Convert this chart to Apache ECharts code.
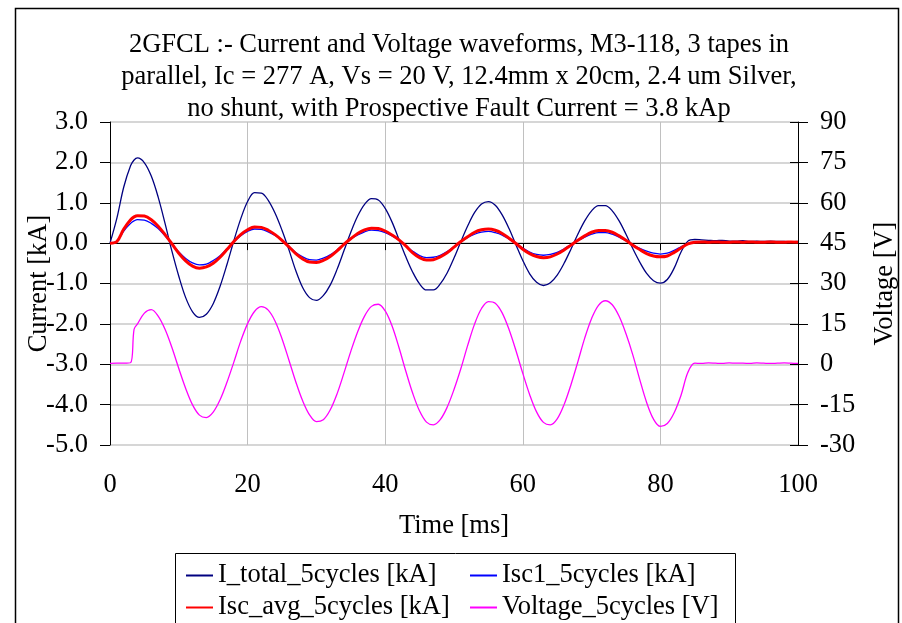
<!DOCTYPE html>
<html>
<head>
<meta charset="utf-8">
<script src="https://cdn.jsdelivr.net/npm/echarts@6/dist/echarts.min.js"></script>
<style>html,body{margin:0;padding:0;background:#fff}#c{width:902px;height:623px}</style>
</head>
<body>
<div id="c"></div>
<script>
const titleLines = [
  '2GFCL :- Current and Voltage waveforms, M3-118, 3 tapes in',
  'parallel, Ic = 277 A, Vs = 20 V, 12.4mm x 20cm, 2.4 um Silver,',
  'no shunt, with Prospective Fault Current = 3.8 kAp'
];
const seriesNames = ['I_total_5cycles [kA]', 'Isc1_5cycles [kA]', 'Isc_avg_5cycles [kA]', 'Voltage_5cycles [V]'];

const timeMs = [0,1,2,3,3.5,4,5,6,7,8,9,10,11,12,13,14,15,16,17,18,19,20,21,22,23,24,25,26,27,28,29,30,31,32,33,34,35,36,37,38,39,40,41,42,43,44,45,46,47,48,49,50,51,52,53,54,55,56,57,58,59,60,61,62,63,64,65,66,67,68,69,70,71,72,73,74,75,76,77,78,79,80,81,82,83,84,85,86,87,88,89,90,91,92,93,94,95,96,97,98,99,100];

const iTotal = [0,0.62,1.39,1.92,2.06,2.11,1.99,1.66,1.14,0.49,-0.20,-0.82,-1.35,-1.70,-1.84,-1.76,-1.50,-1.07,-0.53,0.06,0.60,1.03,1.25,1.24,1.06,0.74,0.32,-0.16,-0.68,-1.10,-1.35,-1.42,-1.30,-1.04,-0.65,-0.19,0.27,0.67,0.96,1.10,1.07,0.86,0.52,0.09,-0.34,-0.72,-1.01,-1.16,-1.16,-1.01,-0.74,-0.37,0.04,0.43,0.76,0.97,1.03,0.94,0.70,0.36,-0.04,-0.43,-0.76,-0.97,-1.05,-0.98,-0.79,-0.50,-0.15,0.22,0.55,0.80,0.93,0.93,0.80,0.55,0.22,-0.14,-0.47,-0.75,-0.93,-0.99,-0.90,-0.62,-0.22,0.05,0.09,0.08,0.07,0.06,0.07,0.05,0.05,0.06,0.04,0.05,0.04,0.05,0.04,0.04,0.03,0.04];

const isc1 = [0,0.05,0.30,0.49,0.55,0.58,0.57,0.49,0.36,0.18,-0.02,-0.22,-0.38,-0.49,-0.54,-0.52,-0.43,-0.31,-0.14,0.03,0.18,0.29,0.35,0.34,0.28,0.19,0.07,-0.08,-0.23,-0.34,-0.41,-0.42,-0.37,-0.29,-0.17,-0.03,0.10,0.20,0.28,0.32,0.31,0.26,0.18,0.07,-0.06,-0.20,-0.31,-0.36,-0.35,-0.30,-0.21,-0.09,0.03,0.14,0.22,0.27,0.29,0.26,0.20,0.10,-0.01,-0.12,-0.22,-0.28,-0.30,-0.28,-0.23,-0.14,-0.04,0.06,0.15,0.22,0.26,0.26,0.22,0.15,0.06,-0.04,-0.13,-0.20,-0.25,-0.27,-0.25,-0.18,-0.09,-0.01,0.02,0.02,0.03,0.02,0.02,0.03,0.02,0.02,0.02,0.03,0.02,0.02,0.02,0.03,0.02,0.02];

const iscAvg = [0,0.04,0.35,0.58,0.65,0.68,0.67,0.58,0.42,0.21,-0.02,-0.25,-0.44,-0.57,-0.62,-0.59,-0.50,-0.35,-0.16,0.04,0.21,0.33,0.40,0.39,0.32,0.21,0.07,-0.09,-0.26,-0.39,-0.47,-0.48,-0.43,-0.33,-0.19,-0.03,0.11,0.24,0.33,0.37,0.36,0.30,0.20,0.08,-0.07,-0.24,-0.36,-0.42,-0.41,-0.34,-0.24,-0.10,0.04,0.16,0.27,0.33,0.35,0.32,0.24,0.12,-0.01,-0.15,-0.26,-0.33,-0.36,-0.34,-0.27,-0.17,-0.05,0.07,0.18,0.27,0.31,0.31,0.27,0.18,0.07,-0.05,-0.16,-0.26,-0.32,-0.34,-0.32,-0.23,-0.12,-0.02,0.02,0.03,0.02,0.03,0.02,0.02,0.03,0.02,0.03,0.02,0.02,0.03,0.02,0.02,0.03,0.02];

const voltage = [0.3,0.4,0.4,0.6,13.0,15.0,19.0,20.3,17.9,13.0,6.2,-1.6,-9.0,-15.1,-18.9,-19.8,-17.8,-13.2,-6.7,0.8,8.6,15.1,19.6,21.4,20.1,16.0,9.5,1.6,-6.5,-13.6,-18.8,-21.3,-20.6,-17.0,-11.0,-3.3,4.8,12.1,17.9,21.5,22.3,19.8,14.2,6.2,-2.6,-10.8,-17.4,-21.5,-22.5,-20.6,-16.0,-9.4,-1.6,7.1,15.0,20.7,23.3,22.7,19.1,12.9,5.1,-3.4,-11.3,-17.7,-21.6,-22.5,-20.3,-15.0,-7.6,0.9,9.7,17.0,21.9,23.6,22.1,17.8,11.3,3.4,-5.7,-14.2,-20.4,-23.1,-22.0,-18.0,-11.5,-3.0,0.4,0.3,0.5,0.4,0.3,0.5,0.4,0.4,0.3,0.5,0.4,0.3,0.4,0.5,0.4,0.3];

const FONT = 'Liberation Serif';
const FS = 26.5;
const pair = arr => timeMs.map((t, i) => [t, arr[i]]);

const legendCommon = {
  orient: 'vertical', top: 562, padding: 0, itemWidth: 27, itemHeight: 4, itemGap: 5,
  itemStyle: {opacity: 0},
  textStyle: {fontFamily: FONT, fontSize: FS, color: '#000', lineHeight: 27}
};

const chart = echarts.init(document.getElementById('c'), null, {renderer: 'canvas'});
chart.setOption({
  animation: false,
  backgroundColor: '#fff',
  textStyle: {fontFamily: FONT},
  title: {
    text: titleLines.join('\n'),
    left: 459, textAlign: 'center', top: 29.5, padding: 0,
    textStyle: {fontFamily: FONT, fontSize: FS, fontWeight: 'normal', color: '#000', lineHeight: 32}
  },
  grid: {left: 110, right: 104, top: 122, bottom: 178, containLabel: false, outerBoundsMode: 'none'},
  legend: [
    Object.assign({left: 185, data: [seriesNames[0], seriesNames[2]]}, legendCommon),
    Object.assign({left: 469, data: [seriesNames[1], seriesNames[3]]}, legendCommon)
  ],
  xAxis: [
    {type: 'value', min: 0, max: 100, interval: 20, position: 'bottom',
     name: 'Time [ms]', nameLocation: 'middle', nameGap: 68, nameMoveOverlap: false,
     nameTextStyle: {fontFamily: FONT, fontSize: FS, color: '#000'},
     axisLine: {show: false, onZero: false}, axisTick: {show: false},
     axisLabel: {fontFamily: FONT, fontSize: FS, color: '#000', margin: 27},
     splitLine: {show: true, lineStyle: {color: '#c0c0c0', width: 1}}},
    {type: 'value', min: 0, max: 100, interval: 20, position: 'top',
     axisLine: {show: true, onZero: true, onZeroAxisIndex: 0, lineStyle: {color: '#000', width: 1}},
     axisTick: {show: true, inside: true, length: 7, lineStyle: {color: '#000'}},
     axisLabel: {show: false}, splitLine: {show: false}}
  ],
  yAxis: [
    {type: 'value', min: -5, max: 3, interval: 1, position: 'left',
     name: 'Current [kA]', nameLocation: 'middle', nameGap: 57, nameRotate: 90, nameMoveOverlap: false,
     nameTextStyle: {fontFamily: FONT, fontSize: FS, color: '#000'},
     axisLine: {show: true, onZero: false, lineStyle: {color: '#000', width: 1}},
     axisTick: {show: true, length: 10, lineStyle: {color: '#000'}},
     axisLabel: {fontFamily: FONT, fontSize: FS, color: '#000', margin: 22, formatter: v => v.toFixed(1)},
     splitLine: {show: true, lineStyle: {color: '#c8c8c8', width: 1.5}}},
    {type: 'value', min: -30, max: 90, interval: 15, position: 'right',
     name: 'Voltage [V]', nameLocation: 'middle', nameGap: 74, nameRotate: 90, nameMoveOverlap: false,
     nameTextStyle: {fontFamily: FONT, fontSize: FS, color: '#000'},
     axisLine: {show: true, onZero: false, lineStyle: {color: '#000', width: 1}},
     axisTick: {show: true, length: 10, lineStyle: {color: '#000'}},
     axisLabel: {fontFamily: FONT, fontSize: FS, color: '#000', margin: 22},
     splitLine: {show: false}},
    {type: 'value', min: -30, max: 90, interval: 15, position: 'right',
     axisLine: {show: false, onZero: false},
     axisTick: {show: true, inside: true, length: 8, lineStyle: {color: '#000'}},
     axisLabel: {show: false}, splitLine: {show: false}}
  ],
  series: [
    {name: seriesNames[0], type: 'line', xAxisIndex: 0, yAxisIndex: 0, data: pair(iTotal),
     symbol: 'none', smooth: 0.35, lineStyle: {color: '#000080', width: 1.3}, itemStyle: {color: '#000080'}},
    {name: seriesNames[1], type: 'line', xAxisIndex: 0, yAxisIndex: 0, data: pair(isc1),
     symbol: 'none', smooth: 0.35, lineStyle: {color: '#0000ff', width: 1.3}, itemStyle: {color: '#0000ff'}},
    {name: seriesNames[2], type: 'line', xAxisIndex: 0, yAxisIndex: 0, data: pair(iscAvg),
     symbol: 'none', smooth: 0.35, lineStyle: {color: '#ff0000', width: 3}, itemStyle: {color: '#ff0000'}},
    {name: seriesNames[3], type: 'line', xAxisIndex: 0, yAxisIndex: 1, data: pair(voltage),
     symbol: 'none', smooth: 0.35, lineStyle: {color: '#ff00ff', width: 1.3}, itemStyle: {color: '#ff00ff'}}
  ],
  graphic: [
    {type: 'rect', silent: true, z: 100, shape: {x: 15.5, y: 8.5, width: 883, height: 700},
     style: {fill: 'none', stroke: '#000', lineWidth: 1.5}},
    {type: 'rect', silent: true, z: 100, shape: {x: 175.5, y: 553.5, width: 560, height: 100},
     style: {fill: 'none', stroke: '#000', lineWidth: 1}}
  ]
});
</script>
</body>
</html>
